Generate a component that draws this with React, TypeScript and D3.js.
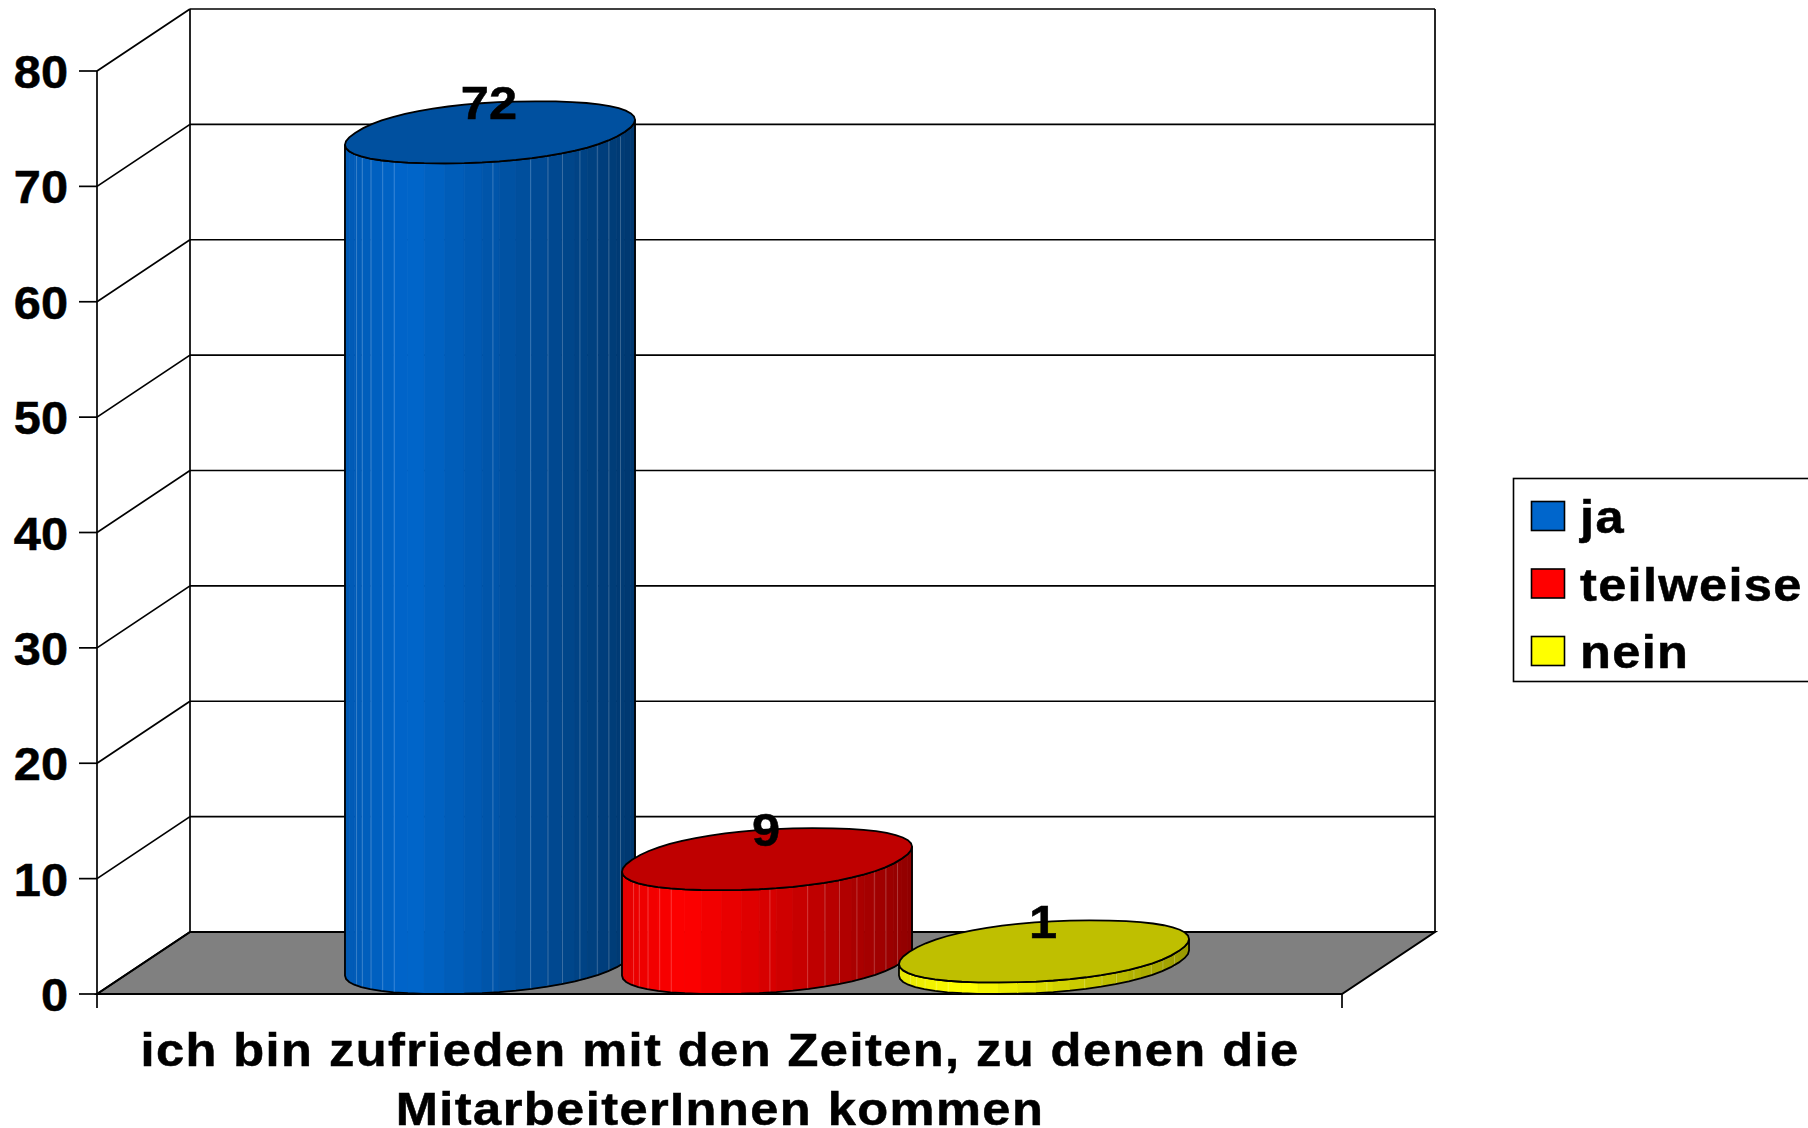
import React from 'react';
import * as d3 from 'd3';

const seriesNames = ['ja', 'teilweise', 'nein'];
const seriesValues = [72, 9, 1];
const sideColors = [
  ['#005ab4', '#0066cc', '#00386f'],
  ['#e60000', '#ff0000', '#900000'],
  ['#e6e600', '#ffff00', '#999900'],
];
const topColors = ['#00509f', '#bf0000', '#bfbf00'];
const legendColors = ['#0066cc', '#ff0000', '#ffff00'];
const yTicks = [0, 10, 20, 30, 40, 50, 60, 70, 80];
const titleLines = ['ich bin zufrieden mit den Zeiten, zu denen die', 'MitarbeiterInnen kommen'];
// where the thin light facet edges sit across a cylinder, 0 = left, 1 = right
const facetEdges = [0.04, 0.06, 0.09, 0.13, 0.17, 0.51, 0.64, 0.7, 0.75, 0.81, 0.87, 0.91, 0.95];

const FONT = '"Liberation Sans", Arial, sans-serif';
const SEGMENTS = 26;
const TEXT_STRETCH = 1.1;
const ROUNDNESS = 0.9;

const y = d3.scaleLinear().domain([0, 80]).range([994, 71]);
const x = d3.scalePoint<string>().domain(seriesNames).range([490, 1044]);
const front = { left: 97, right: 1342 };
const depth = { dx: 93, dy: -62 };
const radius = { a: 134, b: 48, c: -31 };

const polyline = d3.line<[number, number]>();
const closed = (pts: [number, number][]) => polyline(pts) + 'Z';
const squash = (v: number) => Math.sign(v) * Math.pow(Math.abs(v), ROUNDNESS);

// point on the cross section of a cylinder, t is the angle in the floor plane
function rim(cx: number, cy: number, t: number): [number, number] {
  const c = squash(Math.cos(t));
  const s = squash(Math.sin(t));
  return [cx + radius.a * c + radius.b * s, cy + radius.c * s];
}

function Label({ x: px, y: py, anchor, stretch = TEXT_STRETCH, spacing = 0, children }: any) {
  return (
    <text
      transform={`translate(${px},${py}) scale(${stretch},1)`}
      textAnchor={anchor}
      fontSize={46}
      letterSpacing={spacing}
      stroke="#000"
      strokeWidth={0.5}
    >
      {children}
    </text>
  );
}

function Cylinder({ index }: { index: number }) {
  const name = seriesNames[index];
  const cx = x(name) as number;
  const bottom = y(0) + radius.c;
  const top = y(seriesValues[index]) + radius.c;
  const fine = d3.range(720).map(i => (i / 720) * 2 * Math.PI);
  const tRight = fine[d3.greatestIndex(fine, t => rim(0, 0, t)[0]) as number];
  const angles = d3.range(SEGMENTS + 1).map(i => tRight + Math.PI + (i / SEGMENTS) * Math.PI);
  const xs = fine.map(t => rim(cx, 0, t)[0]);
  const spanX = d3.scaleLinear().domain([0, 1]).range(d3.extent(xs) as [number, number]);
  const shade = d3
    .scaleLinear<string>()
    .domain([spanX(0), spanX(0.22), spanX(1)])
    .range(sideColors[index])
    .interpolate(d3.interpolateRgb);

  const outline = [
    ...angles.map(t => rim(cx, bottom, t)),
    ...angles.slice().reverse().map(t => rim(cx, top, t)),
  ] as [number, number][];
  const topRing = d3.range(SEGMENTS * 2).map(i => rim(cx, top, tRight + (i / (SEGMENTS * 2)) * 2 * Math.PI));
  const rimXs = angles.map(t => rim(cx, 0, t)[0]);
  const lowerAt = (px: number) => rim(cx, bottom, angles[d3.bisectCenter(rimXs, px)])[1];
  const upperAt = (px: number) => rim(cx, top, angles[d3.bisectCenter(rimXs, px)])[1];

  return (
    <g>
      {angles.slice(1).map((t, i) => {
        const a = angles[i];
        const mid = (rim(cx, 0, a)[0] + rim(cx, 0, t)[0]) / 2;
        const col = shade(mid);
        return (
          <path
            key={i}
            d={closed([rim(cx, bottom, a), rim(cx, bottom, t), rim(cx, top, t), rim(cx, top, a)])}
            fill={col}
            stroke={col}
            strokeWidth={0.8}
          />
        );
      })}
      {facetEdges.map(f => {
        const px = spanX(f);
        return (
          <line
            key={f}
            x1={px}
            x2={px}
            y1={upperAt(px)}
            y2={lowerAt(px)}
            stroke="#fff"
            strokeOpacity={0.22}
            strokeWidth={1}
          />
        );
      })}
      <path d={closed(outline)} fill="none" stroke="#000" strokeWidth={1.8} />
      <path d={closed(topRing)} fill={topColors[index]} stroke="#000" strokeWidth={1.8} />
    </g>
  );
}

export default function App() {
  const wall = { left: front.left + depth.dx, right: front.right + depth.dx };
  return (
    <svg
      width={1808}
      height={1128}
      viewBox="0 0 1808 1128"
      style={{ position: 'absolute', left: 0, top: 0, background: '#fff' }}
      fontFamily={FONT}
      fontWeight="bold"
    >
      <path
        d={closed([
          [front.left, y(0)],
          [front.right, y(0)],
          [wall.right, y(0) + depth.dy],
          [wall.left, y(0) + depth.dy],
        ])}
        fill="#808080"
        stroke="#000"
        strokeWidth={2}
      />
      {yTicks.map(t => (
        <g key={t} stroke="#000" strokeWidth={1.7} fill="none">
          <line x1={front.left - 18} x2={front.left} y1={y(t)} y2={y(t)} />
          <line x1={front.left} x2={wall.left} y1={y(t)} y2={y(t) + depth.dy} />
          <line x1={wall.left} x2={wall.right} y1={y(t) + depth.dy} y2={y(t) + depth.dy} />
        </g>
      ))}
      <g stroke="#000" strokeWidth={1.7}>
        <line x1={front.left} x2={front.left} y1={y(80)} y2={y(0) + 14} />
        <line x1={wall.left} x2={wall.left} y1={y(80) + depth.dy} y2={y(0) + depth.dy} />
        <line x1={wall.right} x2={wall.right} y1={y(80) + depth.dy} y2={y(0) + depth.dy} />
        <line x1={front.right} x2={front.right} y1={y(0)} y2={y(0) + 14} />
      </g>
      {yTicks.map(t => (
        <Label key={t} x={68} y={y(t) + 17} anchor="end" stretch={1.06}>
          {t}
        </Label>
      ))}

      {seriesNames.map((_, i) => (
        <Cylinder key={i} index={i} />
      ))}
      {seriesNames.map((name, i) => (
        <Label key={name} x={x(name) as number - 1} y={y(seriesValues[i]) - 44} anchor="middle" stretch={1.1}>
          {seriesValues[i]}
        </Label>
      ))}

      {titleLines.map((line, i) => (
        <Label key={i} x={720} y={1066 + i * 59} anchor="middle" spacing={1.3}>
          {line}
        </Label>
      ))}

      <rect x={1513.5} y={478.5} width={320} height={203} fill="#fff" stroke="#000" strokeWidth={1.6} />
      {seriesNames.map((name, i) => (
        <g key={name}>
          <rect
            x={1531.5}
            y={501.5 + i * 67.5}
            width={33}
            height={29}
            fill={legendColors[i]}
            stroke="#000"
            strokeWidth={1.6}
          />
          <Label x={1580} y={533 + i * 67.5} spacing={1.2}>
            {name}
          </Label>
        </g>
      ))}
    </svg>
  );
}
